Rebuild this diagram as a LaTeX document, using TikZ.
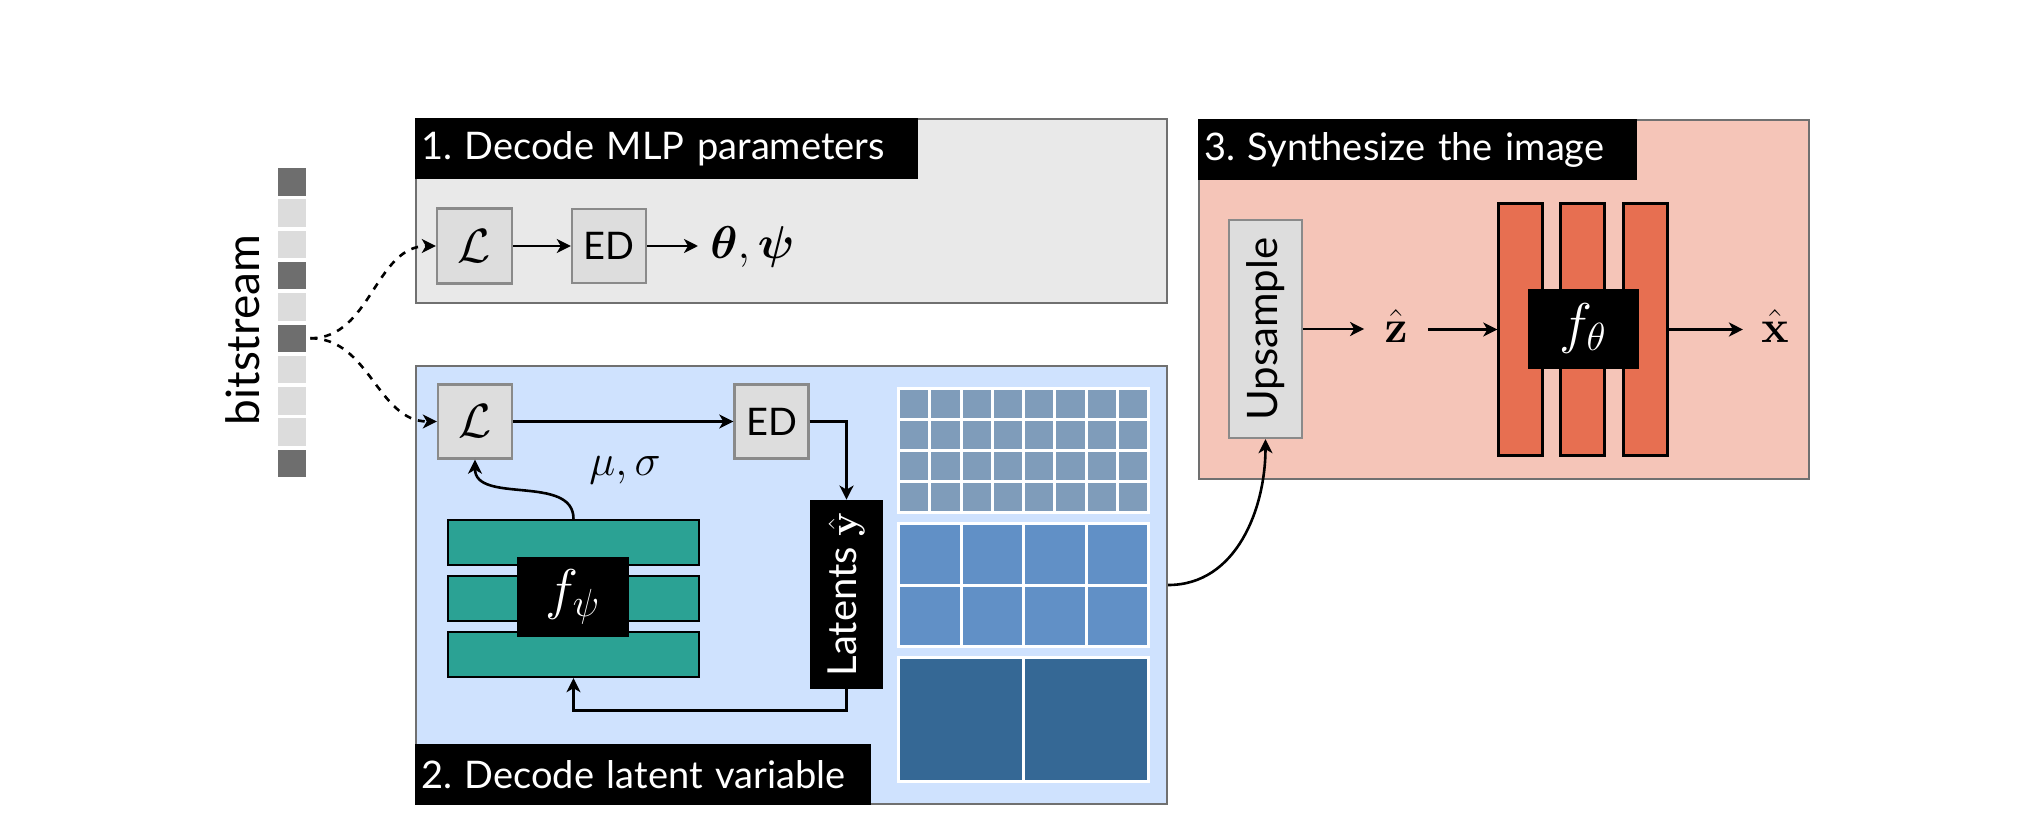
\RequirePackage{fix-cm}
\documentclass[tikz,border=0pt]{standalone}
\usepackage{amsmath}
\usepackage{bm}
\usepackage[no-math]{fontspec}
\setmainfont{Lato}
\usetikzlibrary{arrows.meta}
\frenchspacing
\definecolor{panelA}{HTML}{E9E9E9}
\definecolor{panelB}{HTML}{CFE2FE}
\definecolor{panelC}{HTML}{F5C5B8}
\definecolor{edgeG}{HTML}{707070}
\definecolor{boxF}{HTML}{DDDDDD}
\definecolor{boxE}{HTML}{8A8A8A}
\definecolor{bitD}{HTML}{6E6E6E}
\definecolor{bitL}{HTML}{DCDCDC}
\definecolor{layerG}{HTML}{2BA294}
\definecolor{layerO}{HTML}{E76F51}
\definecolor{gridA}{HTML}{7F9CBA}
\definecolor{gridB}{HTML}{6190C6}
\definecolor{gridC}{HTML}{356895}
\newcommand{\lgrid}[7]{%
  \fill[white] (#1,#2) rectangle (#3,#4);
  \pgfmathsetmacro{\cw}{(#3-#1-(#5+1)*3)/#5}%
  \pgfmathsetmacro{\ch}{(#4-#2-(#6+1)*3)/#6}%
  \foreach \i in {1,...,#5}{%
    \foreach \j in {1,...,#6}{%
      \pgfmathsetmacro{\xa}{#1+3+(\i-1)*(\cw+3)}%
      \pgfmathsetmacro{\ya}{#2+3+(\j-1)*(\ch+3)}%
      \fill[#7] (\xa,\ya) rectangle ++(\cw,\ch);
    }%
  }%
}
\begin{document}
\frenchspacing
\begin{tikzpicture}[x=0.5pt,y=-0.5pt,
  panel/.style={draw=edgeG, line width=1.2pt, inner sep=0pt},
  ttl/.style={fill=black, text=white, inner xsep=3pt, inner ysep=0pt, minimum height=30.5pt, font=\fontsize{19}{21}\selectfont, align=left},
  gbox/.style={draw=boxE, fill=boxF, line width=1.2pt, inner sep=0pt},
  arr/.style={-{Stealth[length=7pt,width=7pt,inset=2pt]}, line width=1.3pt},
  darr/.style={arr, dash pattern=on 3.5pt off 3.5pt},
  bit/.style={minimum width=14pt, minimum height=13.75pt, inner sep=0pt},
  layer/.style={draw=black, line width=1.2pt, inner sep=0pt},
  blk/.style={fill=black, text=white, inner sep=0pt},
  mathbig/.style={font=\fontsize{22}{24}\selectfont}
]
\useasboundingbox (0,0) rectangle (2026,830);

% panels
\node[panel, fill=panelA, minimum width=375.5pt, minimum height=92pt] (P1) at (791.5,211) {};
\node[panel, fill=panelB, minimum width=375.5pt, minimum height=219pt] (P2) at (791.5,585) {};
\node[panel, fill=panelC, minimum width=305pt, minimum height=179.5pt] (P3) at (1504,299.5) {};

\node[ttl, text width=245.5pt, anchor=north west] (T1) at (P1.north west) {1. Decode MLP parameters};
\node[ttl, text width=222pt, anchor=south west] (T2) at (P2.south west) {2. Decode latent variable};
\node[ttl, text width=213.5pt, anchor=north west] (T3) at (P3.north west) {3. Synthesize the image};

% bitstream
\foreach \i/\c in {1/bitD,2/bitL,3/bitL,4/bitD,5/bitL,6/bitD,7/bitL,8/bitL,9/bitL,10/bitD}
  \node[bit, fill=\c] (b\i) at (292,{181.75+(\i-1)*31.3}) {};
\node[rotate=90, font=\fontsize{23}{25}\selectfont] (bs) at (243,330) {bitstream};

% panel 1
\node[gbox, minimum size=37.5pt, font=\fontsize{24}{26}\selectfont] (L1) at (474.5,246) {$\mathcal{L}$};
\node[gbox, minimum size=37pt, font=\fontsize{19}{21}\selectfont] (ED1) at (609,246) {ED};
\node[anchor=west, inner xsep=6pt, inner ysep=0pt, font=\fontsize{23}{25}\selectfont] (tp) at (698,247) {$\bm{\theta},\bm{\psi}$};
\draw[arr] (L1) -- (ED1);
\draw[arr] (ED1.east) -- (ED1.east -| tp.west);

% panel 2
\node[gbox, minimum size=37pt, font=\fontsize{24}{26}\selectfont] (L2) at (475,421.5) {$\mathcal{L}$};
\node[gbox, minimum size=37pt, font=\fontsize{19}{21}\selectfont] (ED2) at (771.5,421.5) {ED};
\node[mathbig] (ms) at (625,470) {$\mu,\sigma$};
\node[blk, rotate=90, minimum width=94.5pt, minimum height=36.5pt, font=\fontsize{20}{22}\selectfont] (Lat) at (846.5,594.5) {Latents $\hat{\mathbf{y}}$};

\node[layer, fill=layerG, minimum width=125.5pt, minimum height=22.5pt] (g1) at (573.5,542.5) {};
\node[layer, fill=layerG, minimum width=125.5pt, minimum height=22.5pt] (g2) at (573.5,598.5) {};
\node[layer, fill=layerG, minimum width=125.5pt, minimum height=22.5pt] (g3) at (573.5,654.5) {};
\node[blk, minimum width=56pt, minimum height=40pt, font=\fontsize{28}{30}\selectfont] (fpsi) at (573,597) {$f_\psi$};

\draw[arr] (L2) -- (ED2);
\draw[arr] (ED2.east) -| (Lat.east);
\draw[arr] (Lat.west) -- ++(0,21) -| (g3.south);
\draw[arr] (g1.north) to[out=90,in=-90] (L2.south);

% dashed connectors
\draw[darr] ([xshift=2pt]b6.east) to[out=0,in=180] (L1.west);
\draw[darr] ([xshift=2pt]b6.east) to[out=0,in=180] (L2.west);

\lgrid{897}{387}{1150}{514}{8}{4}{gridA}
\lgrid{897}{522}{1150}{648}{4}{2}{gridB}
\lgrid{897}{656}{1150}{783}{2}{1}{gridC}

% panel 3
\node[gbox, rotate=90, minimum width=109pt, minimum height=36.5pt, font=\fontsize{21}{23}\selectfont] (Up) at (1265.5,329) {Upsample};
\node[layer, fill=layerO, minimum width=22pt, minimum height=126pt] (o1) at (1520.5,329.5) {};
\node[layer, fill=layerO, minimum width=22pt, minimum height=126pt] (o2) at (1582.5,329.5) {};
\node[layer, fill=layerO, minimum width=22pt, minimum height=126pt] (o3) at (1645.5,329.5) {};
\node[blk, minimum width=55.5pt, minimum height=40pt, font=\fontsize{28}{30}\selectfont] (fth) at (1583,328.5) {$f_\theta$};
\node[inner xsep=10pt, inner ysep=0pt, font=\fontsize{23}{25}\selectfont] (zh) at (1396,326) {$\hat{\mathbf{z}}$};
\node[inner xsep=9pt, inner ysep=0pt, font=\fontsize{23}{25}\selectfont] (xh) at (1775,326) {$\hat{\mathbf{x}}$};

\draw[arr] (Up.south) -- (Up.south -| zh.west);
\draw[arr] (zh.east |- o1.west) -- (o1.west);
\draw[arr] (o3.east) -- (o3.east -| xh.west);

\draw[arr] (P2.east) to[out=0,in=-90] (Up.west);
\end{tikzpicture}
\end{document}
